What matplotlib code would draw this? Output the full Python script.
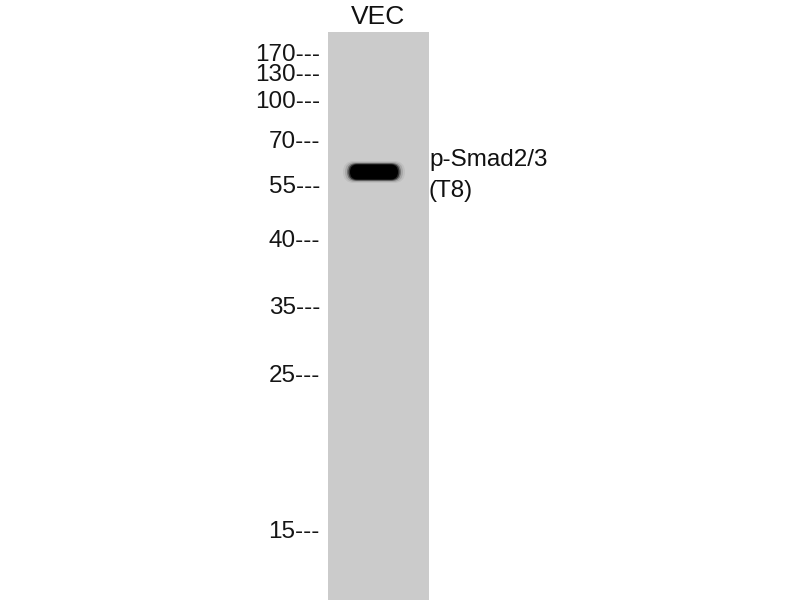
import numpy as np
from matplotlib import pyplot as plt
from matplotlib.patches import Rectangle, FancyBboxPatch

#%% Données (coordonnées en pixels)
lane_names = ['VEC']
marker_kda = ['170', '130', '100', '70', '55', '40', '35', '25', '15']
marker_y = [55, 75, 102, 142, 187, 241, 308, 376, 532]
band_label = ['p-Smad2/3', '(T8)']
band_y = [172]          # position de la bande
band_intensity = [1.0]

#%% Figure
fonte = ['Liberation Sans Narrow', 'Liberation Sans', 'DejaVu Sans']
fig = plt.figure(figsize=(8, 6), dpi=100)
ax = fig.add_axes([0, 0, 1, 1])
ax.set_xlim(0, 800)
ax.set_ylim(600, 0)
ax.axis('off')

# piste grise
lane_x0, lane_x1, lane_top = 328, 429, 32
ax.add_patch(Rectangle((lane_x0, lane_top), lane_x1 - lane_x0, 600 - lane_top,
                       facecolor='#cbcbcb', edgecolor='none'))
ax.text((lane_x0 + lane_x1) / 2, 17, lane_names[0], ha='center', va='center',
        fontsize=19, family=fonte, color='#111111')

# marqueurs de poids moléculaire
for lab, y in zip(marker_kda, marker_y):
    ax.text(320, y, lab + '---', ha='right', va='center', fontsize=17.5,
            family=fonte, color='#151515')

# bande (plusieurs couches pour un bord flou)
cx, w, h = 374, 48, 15
for y, inten in zip(band_y, band_intensity):
    for k, a in [(7, 0.06), (5, 0.12), (3, 0.3), (1.5, 0.6), (0, 1.0)]:
        ax.add_patch(FancyBboxPatch((cx - w / 2 - k, y - h / 2 - k / 2), w + 2 * k, h + k,
                                    boxstyle='round,pad=0,rounding_size=%g' % (h / 2 + k / 2),
                                    facecolor='black', edgecolor='none', alpha=a * inten))

# étiquette de la bande
ax.text(429, 160, band_label[0], ha='left', va='center', fontsize=17.5,
        family=fonte, color='#111111')
ax.text(429, 191, band_label[1], ha='left', va='center', fontsize=17.5,
        family=fonte, color='#111111')

plt.savefig('out.png', dpi=100)
